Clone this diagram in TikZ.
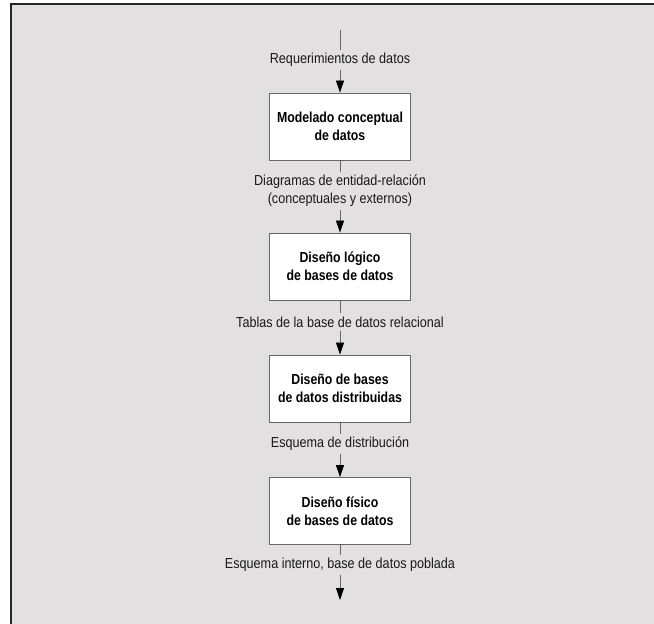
\documentclass[tikz,border=0pt]{standalone}
\usepackage{fontspec}
\setmainfont[FakeStretch=0.87,BoldFeatures={FakeStretch=0.85}]{Liberation Sans}
\usetikzlibrary{arrows.meta}
\definecolor{bg}{HTML}{E2E0E1}
\definecolor{ln}{HTML}{666666}
\tikzset{
  stepbox/.style={draw=ln, line width=0.9pt, fill=white, minimum width=141pt, minimum height=67pt,
    align=center, font=\fontsize{14.5}{17.5}\selectfont\bfseries, inner sep=2pt},
  lab/.style={align=center, font=\fontsize{14.5}{18}\selectfont, inner sep=3pt, text=black!90},
  conn/.style={draw=ln, line width=0.8pt},
  arr/.style={conn, -{Triangle[length=12pt,width=8pt,fill=black,color=black]}}
}
\begin{document}
\begin{tikzpicture}[x=1pt,y=-1pt]
\useasboundingbox (0,0) rectangle (654,624);
\fill[white] (0,0) rectangle (654,624);
\fill[bg] (11,4) rectangle (660,630);
\draw[black!85, line width=2.2pt] (11,640) -- (11,4) -- (670,4);

\coordinate (top) at (340,30);
\node[lab] (l1) at (340,60) {Requerimientos de datos};
\node[stepbox] (b1) at (340,126.5) {Modelado conceptual\\de datos};
\node[lab] (l2) at (340,191) {Diagramas de entidad-relación\\(conceptuales y externos)};
\node[stepbox] (b2) at (340,266.5) {Diseño lógico\\de bases de datos};
\node[lab] (l3) at (340,322) {Tablas de la base de datos relacional};
\node[stepbox] (b3) at (340,388.5) {Diseño de bases\\de datos distribuidas};
\node[lab] (l4) at (340,444) {Esquema de distribución};
\node[stepbox] (b4) at (340,511) {Diseño físico\\de bases de datos};
\node[lab] (l5) at (340,565) {Esquema interno, base de datos poblada};
\coordinate (bot) at (340,600);

\draw[conn] (top) -- (l1);
\draw[arr] (l1) -- (b1);
\draw[conn] (b1) -- (l2);
\draw[arr] (l2) -- (b2);
\draw[conn] (b2) -- (l3);
\draw[arr] (l3) -- (b3);
\draw[conn] (b3) -- (l4);
\draw[arr] (l4) -- (b4);
\draw[conn] (b4) -- (l5);
\draw[arr] (l5) -- (bot);
\end{tikzpicture}
\end{document}
